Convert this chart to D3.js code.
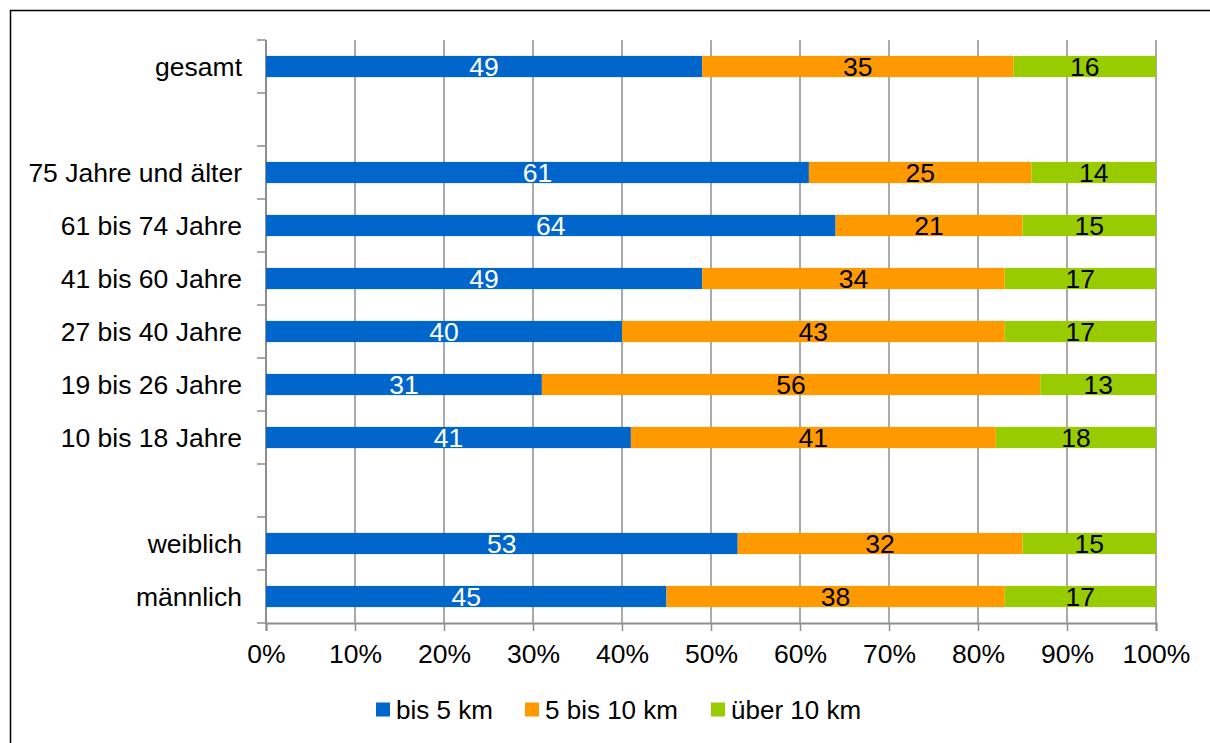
<!DOCTYPE html>
<html>
<head>
<meta charset="utf-8">
<script src="https://cdn.jsdelivr.net/npm/d3@7/dist/d3.min.js"></script>
<style>
  html, body { margin: 0; padding: 0; background: #fff; }
  svg { display: block; font-family: "Liberation Sans", Arial, sans-serif; }
</style>
</head>
<body>
<svg id="chart" width="1210" height="743"></svg>
<script>
// Row labels, top to bottom; empty strings are spacer rows
const categories = ["gesamt", "", "75 Jahre und älter", "61 bis 74 Jahre", "41 bis 60 Jahre",
  "27 bis 40 Jahre", "19 bis 26 Jahre", "10 bis 18 Jahre", "", "weiblich", "männlich"];
const seriesNames = ["bis 5 km", "5 bis 10 km", "über 10 km"];
const bis5 =    [49, null, 61, 64, 49, 40, 31, 41, null, 53, 45];
const bis10 =   [35, null, 25, 21, 34, 43, 56, 41, null, 32, 38];
const ueber10 = [16, null, 14, 15, 17, 17, 13, 18, null, 15, 17];
const xTicks = [0, 10, 20, 30, 40, 50, 60, 70, 80, 90, 100];

const colors = ["#0066cc", "#ff9900", "#99cc00"];
const labelColors = ["#ffffff", "#000000", "#000000"];

const svg = d3.select("#chart");
const plotLeft = 266, plotRight = 1156, plotTop = 40, plotBottom = 623;
const fontSize = 26.5;

// outer frame
svg.append("rect").attr("x", 10.5).attr("y", 10.5).attr("width", 1300).attr("height", 800)
  .attr("fill", "none").attr("stroke", "#000").attr("stroke-width", 1.5);

const x = d3.scaleLinear().domain([0, 100]).range([plotLeft, plotRight]);
const y = d3.scaleBand().domain(d3.range(categories.length)).range([plotTop, plotBottom])
  .paddingInner(0.6).paddingOuter(0.3);

const rows = categories.map((c, i) => ({ i, label: c, vals: [bis5[i], bis10[i], ueber10[i]] }));
const stack = d3.stack().keys([0, 1, 2]).value((d, k) => d.vals[k] || 0);
const layers = stack(rows.filter(r => r.vals[0] != null));

// vertical gridlines
svg.append("g").selectAll("line").data(xTicks).join("line")
  .attr("x1", d => x(d)).attr("x2", d => x(d))
  .attr("y1", plotTop).attr("y2", plotBottom)
  .attr("stroke", "#8e8e8e").attr("stroke-width", 1.5);

// x axis
const xAxis = d3.axisBottom(x).tickValues(xTicks).tickSize(8).tickFormat(d => d + "%");
const gx = svg.append("g").attr("transform", `translate(0,${plotBottom})`).call(xAxis);
gx.select(".domain").attr("stroke", "#8e8e8e").attr("stroke-width", 2);
gx.selectAll(".tick line").attr("stroke", "#8e8e8e").attr("stroke-width", 1.5);
gx.selectAll(".tick text").attr("fill", "#000").attr("font-size", fontSize)
  .attr("font-family", "Liberation Sans, Arial, sans-serif").attr("y", 21);

// y axis line and ticks at the band boundaries
const step = y.step();
svg.append("line").attr("x1", plotLeft).attr("x2", plotLeft).attr("y1", plotTop).attr("y2", plotBottom)
  .attr("stroke", "#8e8e8e").attr("stroke-width", 2);
svg.append("g").selectAll("line").data(d3.range(categories.length + 1)).join("line")
  .attr("x1", plotLeft - 9).attr("x2", plotLeft)
  .attr("y1", i => plotTop + i * step).attr("y2", i => plotTop + i * step)
  .attr("stroke", "#8e8e8e").attr("stroke-width", 1.5);

// category labels
svg.append("g").selectAll("text").data(rows.filter(r => r.label)).join("text")
  .attr("x", 242).attr("y", d => y(d.i) + y.bandwidth() / 2)
  .attr("dy", "0.36em").attr("text-anchor", "end")
  .attr("font-size", fontSize).attr("fill", "#000").text(d => d.label);

// stacked bars with their value labels
layers.forEach((layer, k) => {
  const g = svg.append("g");
  g.selectAll("rect").data(layer).join("rect")
    .attr("x", d => x(d[0])).attr("width", d => x(d[1]) - x(d[0]))
    .attr("y", d => y(d.data.i)).attr("height", y.bandwidth())
    .attr("fill", colors[k]);
  g.selectAll("text").data(layer).join("text")
    .attr("x", d => (x(d[0]) + x(d[1])) / 2)
    .attr("y", d => y(d.data.i) + y.bandwidth() / 2)
    .attr("dy", "0.36em").attr("text-anchor", "middle")
    .attr("font-size", fontSize).attr("fill", labelColors[k])
    .text(d => d.data.vals[k]);
});

// legend
const legendX = [376, 525, 711];
const lg = svg.append("g");
seriesNames.forEach((name, k) => {
  lg.append("rect").attr("x", legendX[k]).attr("y", 702.5).attr("width", 14).attr("height", 14)
    .attr("fill", colors[k]);
  lg.append("text").attr("x", legendX[k] + 20).attr("y", 719)
    .attr("font-size", 26).attr("fill", "#000").text(name);
});
</script>
</body>
</html>
